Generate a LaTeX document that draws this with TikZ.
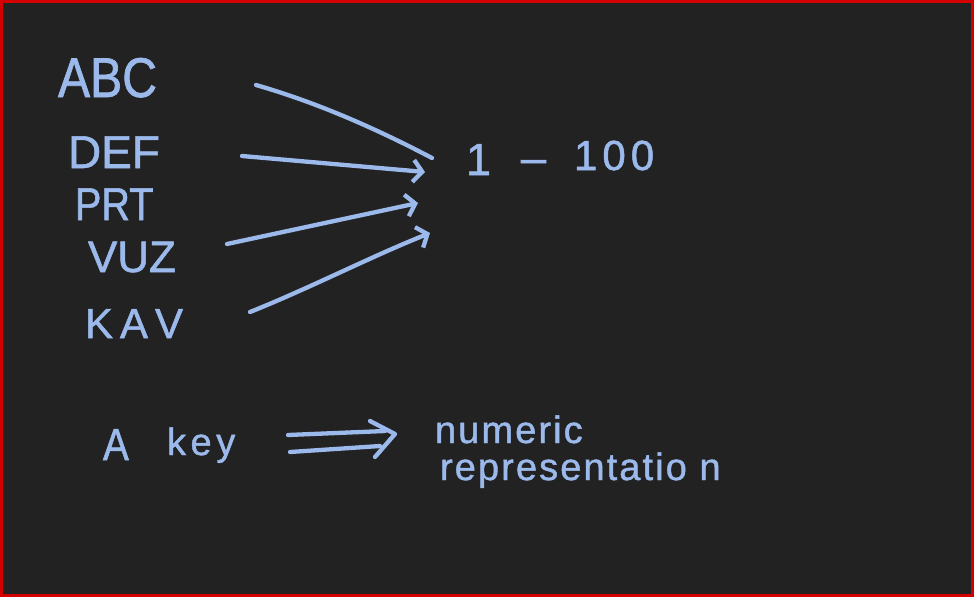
\documentclass[tikz,border=0pt]{standalone}
\usepackage{fontspec}
\setmainfont[FakeBold=1.2]{Liberation Sans}
\newfontfamily\handn[FakeBold=1.2,FakeStretch=0.86]{Liberation Sans}
\newfontfamily\handw[FakeBold=1.2,LetterSpace=12]{Liberation Sans}
\newfontfamily\handm[FakeBold=1.2,LetterSpace=5.5]{Liberation Sans}
\usetikzlibrary{arrows.meta}
\definecolor{bg}{HTML}{222222}
\definecolor{ink}{RGB}{155,185,235}
\definecolor{frame}{HTML}{D40000}
\begin{document}
\begin{tikzpicture}[x=1pt,y=-1pt,
  txt/.style={text=ink, inner sep=0pt, outer sep=0pt, anchor=base west},
  pen/.style={draw=ink, line width=4.3pt, line cap=round, line join=round},
  tipend/.style={-{Straight Barb[length=9pt,width=22pt]}}]
\fill[bg] (0,0) rectangle (974,597);
\draw[frame, line width=3pt] (1.5,1.5) rectangle (972.5,595.5);
\useasboundingbox (0,0) rectangle (974,597);
% left keys
\node[txt, font=\handn\fontsize{56}{60}\selectfont] (abc) at (58,97) {ABC};
\node[txt, font=\fontsize{46}{50}\selectfont] (def) at (68,168) {DEF};
\node[txt, font=\handn\fontsize{46}{50}\selectfont] (prt) at (75,220) {PRT};
\node[txt, font=\fontsize{44}{50}\selectfont] (vuz) at (88,272) {VUZ};
\node[txt, font=\fontsize{42}{50}\selectfont] (kav) at (85,338) {K\,A\,V};
% range
\node[txt, font=\fontsize{45}{50}\selectfont] (one) at (466,175) {1};
\node[txt, font=\fontsize{45}{50}\selectfont] (dash) at (521,173) {–};
\node[txt, font=\handw\fontsize{42}{45}\selectfont] (hund) at (574,170) {100};
% bottom
\node[txt, font=\handn\fontsize{45}{50}\selectfont] (a) at (103,460) {A};
\node[txt, font=\handw\fontsize{38}{40}\selectfont] (key) at (167,455) {key};
\node[txt, font=\handm\fontsize{38}{40}\selectfont] (num) at (435,443) {numeric};
\node[txt, font=\handm\fontsize{38}{40}\selectfont] (rep) at (440,480) {representatio n};
% arrow end points
\coordinate (abcS) at (256,85);  \coordinate (abcE) at (432,158);
\coordinate (defS) at (242,156); \coordinate (defE) at (425,172);
\coordinate (vuzS) at (227,244); \coordinate (vuzE) at (418,203);
\coordinate (kavS) at (250,312); \coordinate (kavE) at (430,233);
\draw[pen] (abcS) .. controls (315,102) and (373,127) .. (abcE);
\draw[pen, tipend] (defS) -- (defE);
\draw[pen, tipend] (vuzS) -- (vuzE);
\draw[pen, tipend] (kavS) .. controls (310,288) and (370,257) .. (kavE);
% implies arrow
\coordinate (u1) at (288,435); \coordinate (u2) at (385,431);
\coordinate (l1) at (290,452); \coordinate (l2) at (380,446);
\coordinate (h1) at (370,421); \coordinate (h2) at (395,434); \coordinate (h3) at (375,457);
\draw[pen] (u1) -- (u2);
\draw[pen] (l1) -- (l2);
\draw[pen] (h1) -- (h2) -- (h3);
\end{tikzpicture}
\end{document}
